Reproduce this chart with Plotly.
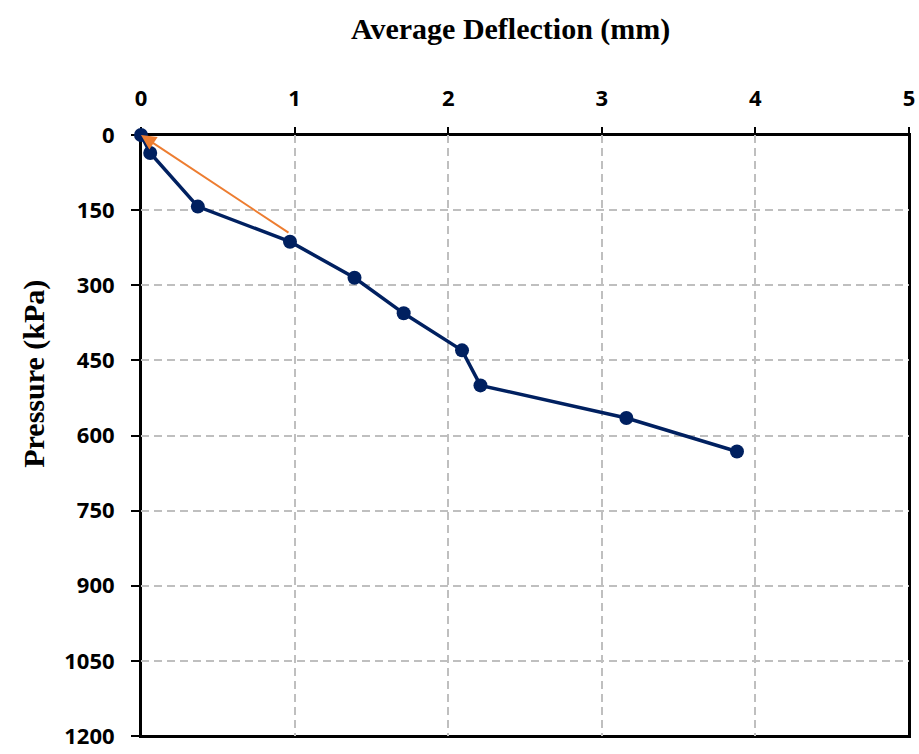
import plotly.graph_objects as go

# Plate load test: average deflection vs applied pressure
deflection_mm = [0.0, 0.06, 0.37, 0.97, 1.39, 1.71, 2.09, 2.21, 3.16, 3.88]
pressure_kpa = [0, 36, 143, 213, 285, 356, 430, 500, 565, 632]

# Secant line from the origin back up to the ~200 kPa reading
secant_tail_mm = 0.97
secant_tail_kpa = 197

x_ticks = [0, 1, 2, 3, 4, 5]
y_ticks = [0, 150, 300, 450, 600, 750, 900, 1050, 1200]

NAVY = "#002060"
ORANGE = "#ED7D31"
GRID = "#BFBFBF"
TICK_FONT = dict(family="Open Sans, Arial", size=22, color="black", weight="bold")
TITLE_FONT = dict(family="Liberation Serif, Times New Roman, serif", size=30, color="black")

fig = go.Figure()
fig.add_trace(go.Scatter(
    x=deflection_mm,
    y=pressure_kpa,
    mode="lines+markers",
    line=dict(color=NAVY, width=3.5),
    marker=dict(color=NAVY, size=14),
    cliponaxis=False,
    showlegend=False,
))

fig.add_annotation(
    x=deflection_mm[0], y=pressure_kpa[0],
    ax=secant_tail_mm, ay=secant_tail_kpa,
    xref="x", yref="y", axref="x", ayref="y",
    text="", showarrow=True,
    arrowhead=2, arrowsize=1.5, arrowwidth=2, arrowcolor=ORANGE,
)

fig.add_annotation(
    text="<b>Average Deflection (mm)</b>",
    xref="paper", yref="paper",
    x=0.4806, y=1.177, xanchor="center", yanchor="middle",
    showarrow=False, font=TITLE_FONT,
)
fig.add_annotation(
    text="<b>Pressure (kPa)</b>",
    xref="paper", yref="paper",
    x=-0.1395, y=0.6025, xanchor="center", yanchor="middle",
    textangle=-90, showarrow=False, font=TITLE_FONT,
)

# Plot-area frame (right and bottom edges)
fig.add_shape(
    type="rect", xref="paper", yref="paper",
    x0=0, x1=1, y0=0, y1=1,
    line=dict(color="black", width=2),
    layer="below",
)

fig.update_xaxes(
    side="top",
    range=[0, 5],
    tickvals=x_ticks,
    ticktext=[str(v) for v in x_ticks],
    tickfont=TICK_FONT,
    ticks="outside", ticklen=6, tickwidth=2, tickcolor="black",
    ticklabelstandoff=12,
    ticklabeloverflow="allow",
    showline=True, linecolor="black", linewidth=2, mirror=True,
    showgrid=True, gridcolor=GRID, gridwidth=1.5, griddash="8px,5px",
    zeroline=False,
    layer="below traces",
)
fig.update_yaxes(
    range=[1200, 0],
    tickvals=y_ticks,
    ticktext=[str(v) for v in y_ticks],
    tickfont=TICK_FONT,
    ticks="outside", ticklen=8, tickwidth=2, tickcolor="black",
    ticklabelstandoff=12,
    ticklabeloverflow="allow",
    showline=True, linecolor="black", linewidth=2, mirror=True,
    showgrid=True, gridcolor=GRID, gridwidth=1.5, griddash="8px,5px",
    zeroline=False,
    layer="below traces",
)

fig.update_layout(
    width=919, height=754,
    margin=dict(l=141, r=4, t=135, b=9),
    paper_bgcolor="white",
    plot_bgcolor="white",
)

fig.write_html("out.html")
